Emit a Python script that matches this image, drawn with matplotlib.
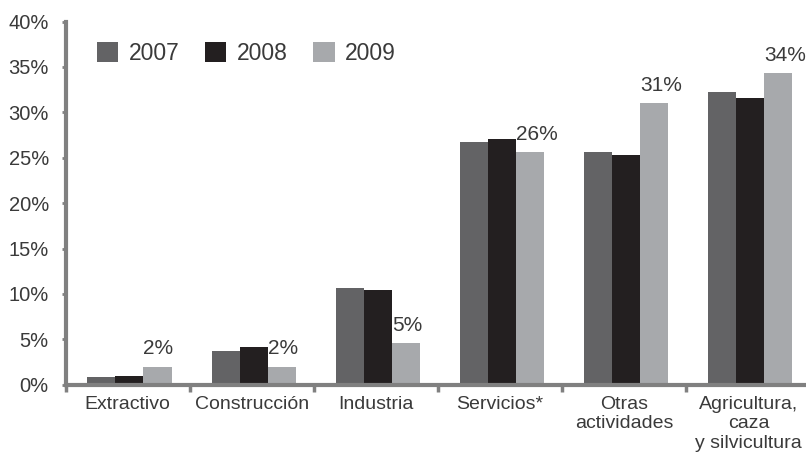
import matplotlib
matplotlib.use('agg')
import matplotlib.pyplot as plt
import numpy as np

plt.rcParams['font.family'] = ['Liberation Sans', 'DejaVu Sans']

categories = ['Extractivo', 'Construcción', 'Industria', 'Servicios*',
              'Otras\nactividades', 'Agricultura,\ncaza\ny silvicultura']
years = ['2007', '2008', '2009']
v2007 = [0.9, 3.7, 10.6, 26.7, 25.6, 32.2]
v2008 = [1.0, 4.1, 10.4, 27.1, 25.3, 31.6]
v2009 = [2.0, 2.0, 4.6, 25.6, 31.0, 34.3]
labels2009 = ['2%', '2%', '5%', '26%', '31%', '34%']

COLORS = ['#636365', '#231f20', '#a7a9ac']
TXT = '#3a3a3a'
AXC = '#808080'

fig = plt.figure(figsize=(8.06, 4.58), dpi=100)
ax = fig.add_axes([65.5/806, 73.3/458, 745/806, 363.2/458])

x = np.arange(len(categories))
w = 0.226
off = 0.015
for i, (vals, yr) in enumerate(zip([v2007, v2008, v2009], years)):
    ax.bar(x + off + (i - 1) * w, vals, width=w, color=COLORS[i], label=yr, zorder=2)

# only the 2009 bars carry a value label
for xi, v, lab in zip(x, v2009, labels2009):
    ax.annotate(lab, (xi + off + 0.5 * w, v), xytext=(0, 6), textcoords='offset points',
                ha='left', va='bottom', fontsize=15, color=TXT)

ax.set_xlim(-0.5, 5.5)
ax.set_ylim(0, 40)
ax.set_yticks(np.arange(0, 41, 5))
ax.set_yticklabels([f'{t}%' for t in range(0, 41, 5)])
ax.set_xticks(x)
ax.set_xticklabels(categories, linespacing=1.2)
ax.set_xticks(np.arange(-0.5, 6, 1), minor=True)

for s in ['top', 'right']:
    ax.spines[s].set_visible(False)
for s in ['left', 'bottom']:
    ax.spines[s].set_color(AXC)
    ax.spines[s].set_linewidth(3)
    ax.spines[s].set_zorder(3)

ax.tick_params(axis='y', length=3, width=2, color=AXC, pad=9, labelsize=14.5, labelcolor=TXT)
ax.tick_params(axis='x', which='major', length=0, pad=8, labelsize=14, labelcolor=TXT)
ax.tick_params(axis='x', which='minor', length=5, width=2.5, color=AXC)

ax.legend(loc='center left', bbox_to_anchor=(0.042, 0.912), ncol=3, frameon=False,
          fontsize=16.5, handlelength=0.92, handleheight=0.92, handletextpad=0.47,
          columnspacing=1.12, borderpad=0, borderaxespad=0, labelcolor=TXT)

plt.savefig('out.png', dpi=100)
